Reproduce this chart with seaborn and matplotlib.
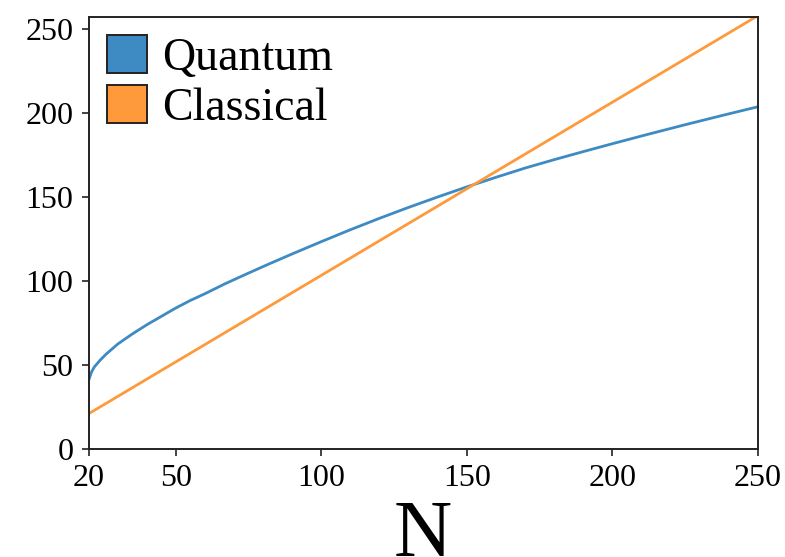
import pandas as pd
import seaborn as sns
import matplotlib.pyplot as plt
from matplotlib.patches import Patch

sns.set_theme(style="ticks")
plt.rcParams['font.family'] = ['Liberation Serif', 'DejaVu Serif']
plt.rcParams['text.color'] = 'black'
plt.rcParams['axes.labelcolor'] = 'black'
plt.rcParams['xtick.color'] = 'black'
plt.rcParams['ytick.color'] = 'black'

# values
n_quantum = [20, 21, 22, 24, 26, 28, 30, 35, 40, 45, 50, 55, 60, 67, 75, 82, 90, 100,
             110, 120, 130, 140, 150, 160, 170, 180, 190, 200, 212, 225, 237, 250]
quantum = [41, 46, 49, 53, 56.5, 59.5, 62.5, 68.5, 74, 79, 84, 88.5, 92.5, 98.5, 104.8, 110.2,
           116.2, 123.5, 130.6, 137.4, 143.9, 150.1, 156.1, 161.8, 167.3, 172.3, 177.1, 181.8,
           187.3, 193.1, 198.3, 203.8]
n_classical = [20, 250]
classical = [21, 258]
x_ticks = [20, 50, 100, 150, 200, 250]
y_ticks = [0, 50, 100, 150, 200, 250]

blue = '#3e8ac3'
orange = '#fe9a3c'

df = pd.concat([
    pd.DataFrame({"N": n_quantum, "value": quantum, "kind": "Quantum"}),
    pd.DataFrame({"N": n_classical, "value": classical, "kind": "Classical"}),
])

fig = plt.figure(figsize=(7.85, 5.57), dpi=100)
ax = fig.add_axes([0.113, 0.194, 0.852, 0.776])

sns.lineplot(data=df, x="N", y="value", hue="kind", palette={"Quantum": blue, "Classical": orange},
             linewidth=2.0, ax=ax, legend=False)

ax.set_xlim(20, 250)
ax.set_ylim(0, 257.5)
ax.set_xticks(x_ticks)
ax.set_yticks(y_ticks)
ax.tick_params(labelsize=23, length=5, width=1.2, color='#222222', pad=6)
for sp in ax.spines.values():
    sp.set_color('#222222')
    sp.set_linewidth(1.4)

ax.set_ylabel('')
ax.set_xlabel('N', fontsize=58, labelpad=5)

handles = [Patch(facecolor=blue, edgecolor='#222222', linewidth=1.4),
           Patch(facecolor=orange, edgecolor='#222222', linewidth=1.4)]
ax.legend(handles, ['Quantum', 'Classical'], loc='upper left', frameon=False, fontsize=33,
          handlelength=0.88, handleheight=0.9, handletextpad=0.32, labelspacing=0.12,
          borderpad=0.3, borderaxespad=0.1)

fig.savefig('out.png', dpi=100)
